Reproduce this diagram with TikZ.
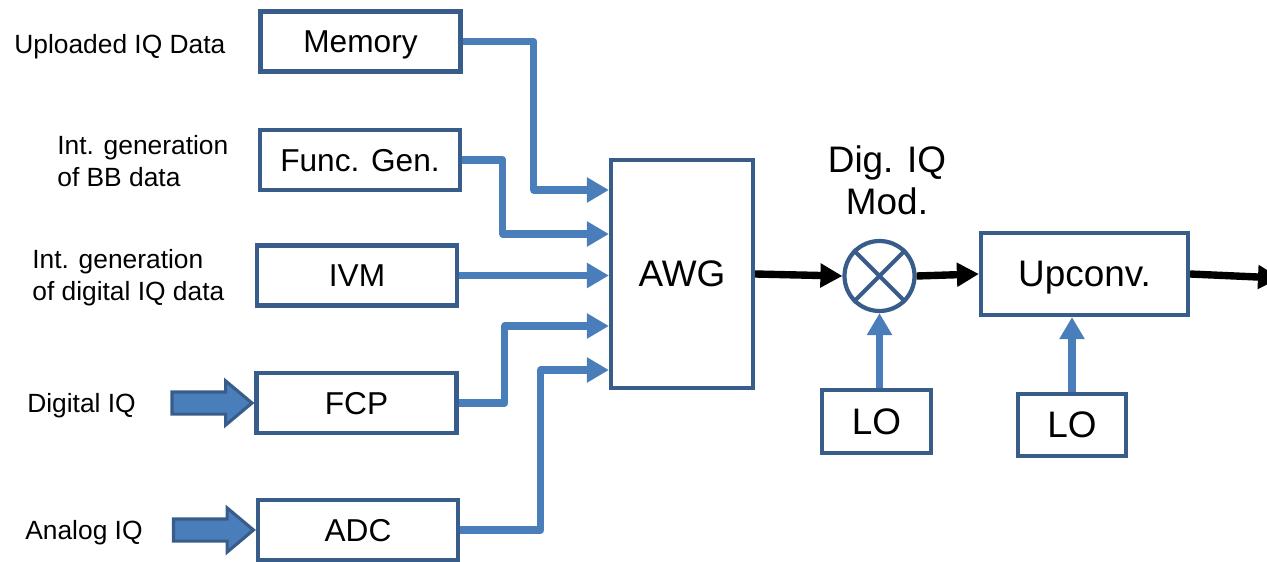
\documentclass[tikz,border=0pt]{standalone}
\usepackage{fontspec}
\setmainfont{Liberation Sans}
\usetikzlibrary{shapes,arrows.meta,positioning,calc}
\definecolor{boxblue}{RGB}{56,93,138}
\definecolor{flowblue}{RGB}{74,126,187}

\begin{document}
\begin{tikzpicture}[
        block/.style={rectangle, draw=boxblue, line width=2.4pt, fill=white, minimum width=4cm, minimum height=1.2cm, text depth=0pt, font=\fontsize{18}{21}\selectfont},
        bigblock/.style={rectangle, draw=boxblue, line width=2.4pt, fill=white, text depth=0pt, font=\fontsize{21}{24}\selectfont},
        mixer/.style={circle, draw=boxblue, line width=2.4pt, minimum size=1.4cm, inner sep=0pt},
        flow/.style={->, >={Triangle[length=0.44cm, width=0.48cm]}, draw=flowblue, line width=4pt, line join=round},
        rfpath/.style={->, >={Triangle[length=0.44cm, width=0.46cm]}, draw=black, line width=4.2pt},
        fatarrow/.style={single arrow, draw=boxblue, fill=flowblue, line width=1.8pt, inner xsep=0pt, inner ysep=0.19cm, minimum height=1.6cm, single arrow head extend=0.22cm, single arrow tip angle=80},
        srctext/.style={anchor=west, inner sep=0pt, align=left, font=\fontsize{15}{18}\selectfont}
    ]
        \useasboundingbox (0,0) rectangle (25.34,11.22);
        \clip (0,0) rectangle (25.34,11.22);

        % Source blocks
        \node[block] (mem) at (7.21,10.39) {Memory};
        \node[block] (fgen) at (7.2,8.02) {Func. Gen.};
        \node[block] (ivm) at (7.14,5.71) {IVM};
        \node[block] (fcp) at (7.13,3.16) {FCP};
        \node[block] (adc) at (7.16,0.62) {ADC};

        % Source labels
        \node[srctext] (t1) at (0.28,10.28) {Uploaded IQ Data};
        \node[srctext] (t2) at (1.14,8.0) {Int. generation\\of BB data};
        \node[srctext] (t3) at (0.64,5.66) {Int. generation\\of digital IQ data};
        \node[srctext] (t4) at (0.54,3.1) {Digital IQ};
        \node[srctext] (t5) at (0.5,0.56) {Analog IQ};

        % External inputs
        \node[fatarrow, anchor=tip] (din) at (fcp.west) {};
        \node[fatarrow, anchor=tip] (ain) at (adc.west) {};

        % AWG and RF chain
        \node[bigblock, minimum width=2.84cm, minimum height=4.56cm] (awg) at (13.64,5.74) {AWG};
        \node[mixer] (mix) at (17.59,5.70) {};
        \draw[boxblue, line width=2.4pt] (mix.north west) -- (mix.south east) (mix.north east) -- (mix.south west);
        \node[font=\fontsize{21}{24}\selectfont, align=center] (modtxt) at (17.74,7.62) {Dig. IQ\\Mod.};
        \node[bigblock, minimum width=4.14cm, minimum height=1.64cm] (up) at (21.69,5.74) {Upconv.};
        \node[bigblock, minimum width=2.18cm, minimum height=1.26cm] (lo1) at (17.53,2.79) {LO};
        \node[bigblock, minimum width=2.16cm, minimum height=1.24cm] (lo2) at (21.44,2.72) {LO};
        \coordinate (out) at (25.6,5.66);

        % AWG inputs
        \coordinate (in1) at ($(awg.west)+(0,1.68)$);
        \coordinate (in2) at ($(awg.west)+(0,0.80)$);
        \coordinate (in4) at ($(awg.west)+(0,-1.04)$);
        \coordinate (in5) at ($(awg.west)+(0,-1.92)$);
        \draw[flow] (mem.east) -| ([xshift=-1.5cm]in1) -- (in1);
        \draw[flow] (fgen.east) -| ([xshift=-2.12cm]in2) -- (in2);
        \draw[flow] (ivm.east) -- (ivm.east -| awg.west);
        \draw[flow] (fcp.east) -| ([xshift=-2.08cm]in4) -- (in4);
        \draw[flow] (adc.east) -| ([xshift=-1.36cm]in5) -- (in5);

        % Signal path
        \draw[rfpath] (awg.east) -- (mix.west);
        \draw[rfpath] (mix.east) -- (up.west);
        \draw[rfpath] (up.east) -- (out);

        % Local oscillators
        \draw[flow] (mix.south |- lo1.north) -- (mix.south);
        \draw[flow] (lo2.north) -- (lo2.north |- up.south);

    \end{tikzpicture}
\end{document}
